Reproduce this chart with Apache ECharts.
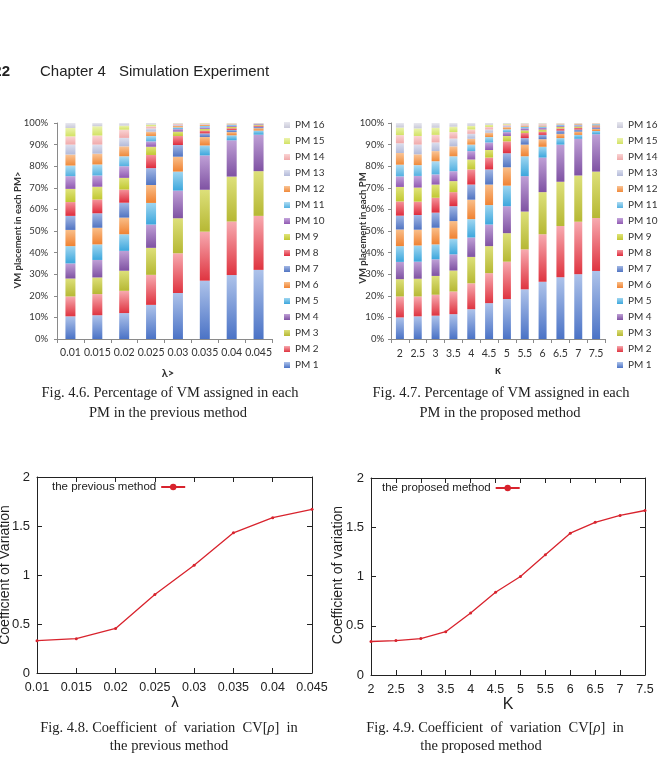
<!DOCTYPE html>
<html><head><meta charset="utf-8">
<script src="https://cdn.jsdelivr.net/npm/echarts@6/dist/echarts.min.js"></script>
<style>html,body{margin:0;padding:0;background:#fff}#c{width:658px;height:761px}</style>
</head><body><div id="c"></div>
<script>
// ---------- DATA ----------
const pmNames = ['PM 1','PM 2','PM 3','PM 4','PM 5','PM 6','PM 7','PM 8','PM 9','PM 10','PM 11','PM 12','PM 13','PM 14','PM 15','PM 16'];
const lambdaCats = ['0.01','0.015','0.02','0.025','0.03','0.035','0.04','0.045'];
const kappaCats = ['2','2.5','3','3.5','4','4.5','5','5.5','6','6.5','7','7.5'];

// Fig 4.6: share (%) of VMs on PM1..PM16, previous method, one array per lambda
const prev_0010 = [10.5, 9.2, 8.3, 7.0, 8.0, 7.5, 6.5, 6.4, 6.1, 5.9, 4.9, 5.1, 4.6, 3.8, 3.9, 2.3];
const prev_0015 = [11.0, 9.8, 7.7, 8.1, 7.2, 7.7, 6.7, 6.4, 5.9, 5.2, 5.1, 5.0, 4.2, 4.2, 4.3, 1.5];
const prev_0020 = [12.0, 10.3, 9.3, 9.2, 7.7, 7.7, 6.9, 6.1, 5.4, 5.4, 4.6, 4.6, 3.9, 3.8, 1.9, 1.2];
const prev_0025 = [15.8, 13.9, 12.5, 10.8, 10.0, 8.3, 7.8, 6.1, 3.8, 2.5, 2.5, 2.0, 1.5, 1.0, 0.8, 0.7];
const prev_0030 = [21.3, 18.4, 16.2, 12.8, 8.8, 6.9, 5.4, 4.2, 2.0, 1.2, 0.8, 0.7, 0.5, 0.4, 0.2, 0.2];
const prev_0035 = [27.0, 22.7, 19.4, 15.9, 4.6, 3.9, 1.7, 1.3, 0.8, 0.7, 0.6, 0.5, 0.3, 0.3, 0.2, 0.1];
const prev_0040 = [29.6, 24.8, 20.8, 16.8, 2.3, 1.5, 1.0, 0.8, 0.6, 0.5, 0.4, 0.3, 0.2, 0.2, 0.1, 0.1];
const prev_0045 = [32.0, 25.0, 20.7, 16.9, 1.9, 1.1, 0.7, 0.5, 0.4, 0.3, 0.2, 0.1, 0.1, 0.05, 0.03, 0.02];

// Fig 4.7: share (%) of VMs on PM1..PM16, proposed method, one array per kappa
const prop_20 = [10.0, 9.7, 8.0, 8.0, 7.3, 7.7, 6.4, 6.6, 6.7, 4.9, 5.4, 5.4, 4.5, 3.8, 3.5, 2.1];
const prop_25 = [10.5, 9.2, 8.2, 7.9, 7.5, 7.3, 6.8, 6.2, 6.5, 5.4, 5.0, 5.0, 4.5, 4.0, 3.5, 2.5];
const prop_30 = [10.8, 9.7, 8.7, 7.7, 6.9, 7.7, 7.0, 6.9, 6.1, 4.7, 6.1, 4.7, 4.0, 3.5, 3.3, 2.2];
const prop_35 = [11.5, 10.5, 9.7, 7.5, 7.2, 8.2, 6.9, 6.5, 5.1, 4.6, 6.9, 4.6, 3.6, 3.0, 2.5, 1.7];
const prop_40 = [13.8, 12.0, 12.2, 9.0, 8.5, 9.0, 7.0, 7.0, 4.6, 3.9, 3.0, 2.7, 2.3, 2.0, 1.7, 1.3];
const prop_45 = [16.6, 13.9, 12.5, 10.0, 9.0, 9.5, 7.0, 5.5, 3.5, 3.5, 2.5, 2.0, 1.5, 1.2, 1.0, 0.8];
const prop_50 = [18.5, 17.3, 13.2, 12.5, 9.5, 8.5, 6.5, 5.5, 2.5, 1.8, 1.3, 1.0, 0.7, 0.5, 0.4, 0.3];
const prop_55 = [23.0, 18.5, 17.5, 16.4, 9.2, 5.4, 3.0, 2.4, 1.2, 1.0, 0.7, 0.6, 0.4, 0.3, 0.2, 0.2];
const prop_60 = [26.5, 22.0, 19.5, 16.0, 5.0, 3.5, 2.0, 1.5, 1.0, 0.8, 0.6, 0.5, 0.4, 0.3, 0.2, 0.2];
const prop_65 = [28.6, 23.7, 20.5, 17.2, 3.0, 2.0, 1.5, 1.0, 0.7, 0.5, 0.4, 0.3, 0.2, 0.2, 0.1, 0.1];
const prop_70 = [30.0, 24.3, 21.4, 17.0, 1.8, 1.5, 1.0, 0.8, 0.6, 0.5, 0.4, 0.3, 0.2, 0.1, 0.05, 0.05];
const prop_75 = [31.5, 24.5, 21.5, 17.3, 1.5, 1.0, 0.7, 0.5, 0.4, 0.3, 0.3, 0.2, 0.1, 0.1, 0.05, 0.05];

// Fig 4.8 / 4.9: coefficient of variation
const prevCV = [0.33, 0.35, 0.455, 0.80, 1.10, 1.43, 1.585, 1.67];
const propCV = [0.34, 0.35, 0.37, 0.44, 0.63, 0.84, 1.00, 1.22, 1.44, 1.55, 1.62, 1.67];

const pctTicks = { min: 0, max: 100, interval: 10 };
const cvTicks = { min: 0, max: 2, interval: 0.5 };

// ---------- STYLE ----------
const prevBars = [prev_0010, prev_0015, prev_0020, prev_0025, prev_0030, prev_0035, prev_0040, prev_0045];
const propBars = [prop_20, prop_25, prop_30, prop_35, prop_40, prop_45, prop_50, prop_55, prop_60, prop_65, prop_70, prop_75];
const pmTop = ['#aec3ea','#f7aab0','#dde07a','#bfa0d6','#a0d6f0','#f9bf8a','#a3b8e4','#f4939b','#e0e47a','#c4a6dc','#b0dcf2','#f9c496','#dcdfee','#fad4d4','#ecf3ae','#e8e8ef'];
const pmBot = ['#4b73c6','#df3440','#b6b834','#7f52a3','#3ca7dd','#f08232','#5174c2','#df2c3c','#c1c832','#9159b2','#52b1e1','#f08a3a','#b3bad9','#f0a9aa','#d2e264','#c9c9d9'];
function grad(i){ return {type:'linear',x:0,y:0,x2:0,y2:1,colorStops:[{offset:0,color:pmTop[i]},{offset:1,color:pmBot[i]}]}; }

const barFont = 'Lato';
const gpFont = 'Liberation Sans';
const serif = 'Liberation Serif';
const red = '#d8232d';

function barX(cats, gi, margin){
  return {type:'category', gridIndex:gi, data:cats, boundaryGap:true,
    axisLine:{show:true, lineStyle:{color:'#8a8a8a', width:1}},
    axisTick:{show:true, length:4, lineStyle:{color:'#8a8a8a'}},
    axisLabel:{interval:0, margin:margin, color:'#333', fontFamily:barFont, fontSize:10.5}};
}
function barY(gi, margin){
  return {type:'value', gridIndex:gi, min:pctTicks.min, max:pctTicks.max, interval:pctTicks.interval,
    axisLine:{show:true, lineStyle:{color:'#8a8a8a', width:1}},
    axisTick:{show:true, length:3, lineStyle:{color:'#8a8a8a'}},
    splitLine:{show:false},
    axisLabel:{formatter:'{value}%', margin:margin, color:'#333', fontFamily:barFont, fontSize:9.5}};
}
function gpX(cats, gi, pos, labels){
  return {type:'category', gridIndex:gi, data:cats, boundaryGap:false, position:pos,
    axisLine:{show:true, onZero:false, lineStyle:{color:'#222', width:1}},
    axisTick:{show:true, inside:true, length:5, lineStyle:{color:'#222'}},
    axisLabel:{show:labels, interval:0, margin:8, color:'#222', fontFamily:gpFont, fontSize:12.5}};
}
function gpY(gi, pos, labels){
  return {type:'value', gridIndex:gi, position:pos, min:cvTicks.min, max:cvTicks.max, interval:cvTicks.interval,
    axisLine:{show:true, onZero:false, lineStyle:{color:'#222', width:1}},
    axisTick:{show:true, inside:true, length:5, lineStyle:{color:'#222'}},
    splitLine:{show:false},
    axisLabel:{show:labels, margin:7, color:'#222', fontFamily:gpFont, fontSize:13}};
}

const series = [];
for (let i = 0; i < 16; i++) {
  series.push({name:pmNames[i], type:'bar', stack:'prev', xAxisIndex:0, yAxisIndex:0, barWidth:10,
    data: prevBars.map(b => b[i]), itemStyle:{color:grad(i)}});
}
for (let i = 0; i < 16; i++) {
  series.push({name:pmNames[i], type:'bar', stack:'prop', xAxisIndex:1, yAxisIndex:1, barWidth:8,
    data: propBars.map(b => b[i]), itemStyle:{color:grad(i)}});
}
series.push({name:'the previous method', type:'line', xAxisIndex:2, yAxisIndex:2, data:prevCV,
  symbol:'circle', symbolSize:3, lineStyle:{color:red, width:1.3}, itemStyle:{color:red}});
series.push({name:'the proposed method', type:'line', xAxisIndex:4, yAxisIndex:4, data:propCV,
  symbol:'circle', symbolSize:3, lineStyle:{color:red, width:1.3}, itemStyle:{color:red}});

const legendNames = pmNames.slice().reverse();
function pmLegend(left){
  return {orient:'vertical', left:left, top:119, padding:0, itemWidth:6, itemHeight:6, itemGap:4, icon:'rect',
    data:legendNames, selectedMode:false,
    textStyle:{fontFamily:barFont, fontSize:10, color:'#333', lineHeight:12, padding:0, overflow:'none'}};
}
function lineLegend(name, left, top){
  return {left:left, top:top, padding:0, data:[name], align:'right', itemWidth:24, itemHeight:8, itemGap:5, selectedMode:false,
    textStyle:{fontFamily:gpFont, fontSize:11.5, color:'#222'}};
}

function txt(x, y, text, font, extra){
  return Object.assign({type:'text', x:x, y:y, silent:true,
    style:Object.assign({text:text, font:font, fill:'#222', align:'center', verticalAlign:'middle'}, (extra && extra.style) || {})},
    extra && extra.rotation !== undefined ? {rotation:extra.rotation} : {});
}
function capRich(x, y, text){
  return {type:'text', x:x, y:y, silent:true,
    style:{text:text, fontFamily:serif, fontSize:14.5, fill:'#222', align:'center', verticalAlign:'middle',
      rich:{i:{fontFamily:serif, fontSize:14.5, fontStyle:'italic', fill:'#222'}}}};
}

const graphics = [
  txt(10, 72, '22', 'bold 15px "Liberation Sans"', {style:{align:'right'}}),
  txt(40, 72, 'Chapter 4', '15px "Liberation Sans"', {style:{align:'left'}}),
  txt(119, 72, 'Simulation Experiment', '15px "Liberation Sans"', {style:{align:'left'}}),
  // bar chart axis titles
  txt(18, 230, 'VM placement in each PM>', 'bold 9.5px Lato', {rotation:Math.PI/2, style:{fill:'#333'}}),
  txt(363, 228, 'VM placement in each PM', 'bold 9.5px Lato', {rotation:Math.PI/2, style:{fill:'#333'}}),
  txt(168, 373, 'λ>', 'bold 11px Lato', {style:{fill:'#333'}}),
  txt(498, 370, 'κ', 'bold 11px Lato', {style:{fill:'#333'}}),
  // line chart axis titles
  txt(5, 575, 'Coefficient of Variation', '14px "Liberation Sans"', {rotation:Math.PI/2}),
  txt(338, 575, 'Coefficient of variation', '14px "Liberation Sans"', {rotation:Math.PI/2}),
  txt(175, 703, 'λ', '15px "Liberation Sans"'),
  txt(508, 705, 'K', '16px "Liberation Sans"'),
  // captions
  capRich(170, 393, 'Fig. 4.6. Percentage of VM assigned in each'),
  capRich(168, 413, 'PM in the previous method'),
  capRich(501, 393, 'Fig. 4.7. Percentage of VM assigned in each'),
  capRich(500, 413, 'PM in the proposed method'),
  capRich(169, 728, 'Fig. 4.8. Coefficient  of  variation  CV[{i|ρ}]  in'),
  capRich(169, 746, 'the previous method'),
  capRich(495, 728, 'Fig. 4.9. Coefficient  of  variation  CV[{i|ρ}]  in'),
  capRich(481, 746, 'the proposed method')
];

const option = {
  animation:false,
  backgroundColor:'#fff',
  grid:[
    {left:57, top:123, width:215, height:216},
    {left:391, top:123, width:214, height:216},
    {left:37, top:477, width:275, height:196},
    {left:371, top:478, width:274, height:197}
  ],
  xAxis:[
    barX(lambdaCats, 0, 8),
    barX(kappaCats, 1, 9),
    gpX(lambdaCats, 2, 'bottom', true),
    gpX(lambdaCats, 2, 'top', false),
    gpX(kappaCats, 3, 'bottom', true),
    gpX(kappaCats, 3, 'top', false)
  ],
  yAxis:[
    barY(0, 9),
    barY(1, 7),
    gpY(2, 'left', true),
    gpY(2, 'right', false),
    gpY(3, 'left', true),
    gpY(3, 'right', false)
  ],
  legend:[
    pmLegend(284),
    pmLegend(617),
    lineLegend('the previous method', 52, 481),
    lineLegend('the proposed method', 382, 482)
  ],
  series:series,
  graphic:graphics
};

const chart = echarts.init(document.getElementById('c'), null, {renderer:'canvas'});
chart.setOption(option);
</script></body></html>
